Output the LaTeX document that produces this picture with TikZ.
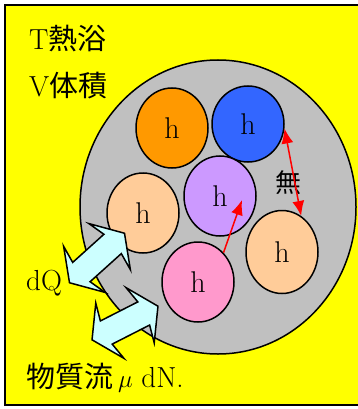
\documentclass[tikz,border=0pt]{standalone}
\usepackage{fontspec}
\usepackage{tikz}
\usetikzlibrary{shapes.geometric,arrows.meta}
\newfontfamily\jpfont{Noto Sans CJK JP}
\definecolor{cBath}{RGB}{255,255,0}
\definecolor{cSys}{RGB}{192,192,192}
\definecolor{cOr}{RGB}{255,153,0}
\definecolor{cBl}{RGB}{51,102,255}
\definecolor{cPu}{RGB}{204,153,255}
\definecolor{cPe}{RGB}{255,204,153}
\definecolor{cPk}{RGB}{255,153,204}
\definecolor{cFlow}{RGB}{204,255,255}
\tikzset{
  mol/.style={ellipse,draw,line width=1.5pt,minimum width=72pt,minimum height=80pt,inner sep=0pt,font=\fontsize{30}{34}\selectfont},
  lbl/.style={anchor=base west,inner sep=0pt,font=\fontsize{29}{34}\selectfont},
  link/.style={red,line width=1.5pt},
  flowarrow/.pic={
    \filldraw[fill=cFlow,line width=1.5pt,line join=miter]
      (37,0) -- (17,31) -- (21,13) -- (-21,13) -- (-17,31) -- (-37,0)
      -- (-17,-31) -- (-21,-13) -- (21,-13) -- (17,-31) -- cycle;
  },
}
\begin{document}
\begin{tikzpicture}[x=1pt,y=-1pt]
\useasboundingbox (0,0) rectangle (357,409);
\filldraw[fill=cBath,line width=2pt] (5,5) rectangle (370,405);
\filldraw[fill=cSys,line width=1.5pt] (218,207) ellipse [x radius=138, y radius=147];
% molecules
\node[mol,fill=cOr] (orange) at (172,128) {h};
\node[mol,fill=cBl,minimum height=76pt] (blue) at (248,124) {h};
\node[mol,fill=cPu] (purple) at (220,196) {h};
\node[mol,fill=cPe] (lpeach) at (143,213) {h};
\node[mol,fill=cPe,minimum height=83pt] (rpeach) at (282,252) {h};
\node[mol,fill=cPk] (pink) at (198,282) {h};
\node[font=\fontsize{26}{30}\jpfont] (none) at (288,183) {無};
\coordinate (pp) at (242,200);
\draw[link,-{Latex[length=15pt,width=12pt]}] (pink.49) -- (pp);
\draw[link,{Latex[length=15pt,width=12pt]}-{Latex[length=15pt,width=12pt]}] (blue.-7) -- (rpeach.62);
% flows
\pic[rotate=42] at (97,258) {flowarrow};
\pic[rotate=27] at (125,323) {flowarrow};
% labels
\node[lbl] (bath) at (29,50) {T{\jpfont 熱浴}};
\node[lbl] (vol) at (29,97) {V{\jpfont 体積}};
\node[lbl] (dq) at (26,290) {dQ};
\node[lbl] (dn) at (26,387) {{\jpfont 物質流}\,$\mu$\ dN.};
\end{tikzpicture}
\end{document}
